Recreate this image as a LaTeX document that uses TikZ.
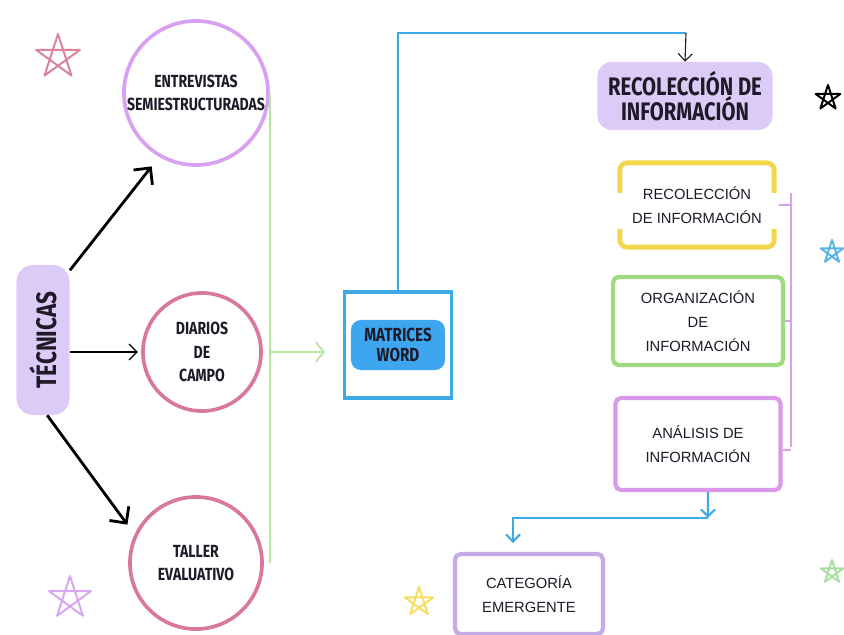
\documentclass[tikz,border=0pt]{standalone}
\usepackage{fontspec}
\setmainfont{Liberation Sans}
\newfontfamily\handfont[FakeStretch=0.8]{Fira Sans}
\usetikzlibrary{arrows.meta}
\definecolor{inkc}{HTML}{1E1A28}
\definecolor{lavfill}{HTML}{DCCBF6}
\definecolor{violetc}{HTML}{D8A0F0}
\definecolor{rosec}{HTML}{D9789B}
\definecolor{greenc}{HTML}{B8E4A2}
\definecolor{boxgreen}{HTML}{9FDB7E}
\definecolor{bluec}{HTML}{3FA9E6}
\definecolor{blobblue}{HTML}{3EA6EE}
\definecolor{yellowc}{HTML}{F3D64C}
\definecolor{anac}{HTML}{DB98EA}
\definecolor{catc}{HTML}{C6AAE8}
\definecolor{starpink}{HTML}{D9849A}
\definecolor{starblue}{HTML}{5AB4E6}
\definecolor{stargreen}{HTML}{A9DFA1}
\definecolor{starpurple}{HTML}{D6A6F2}
\definecolor{staryellow}{HTML}{F5DE62}
\tikzset{
  circtext/.style={circle, line width=2.6pt, inner sep=0pt, text=inkc, align=center,
    font=\handfont\bfseries\fontsize{12.5}{16.5}\selectfont},
  boxtext/.style={rectangle, rounded corners=4pt, line width=3pt, inner sep=0pt, text=inkc,
    align=center, font=\fontsize{10.5}{17}\selectfont},
  blackarrow/.style={line width=2pt, draw=black, -{Straight Barb[length=3mm,width=6mm]}},
  thinarrow/.style={line width=0.9pt, draw=black, -{Straight Barb[length=2mm,width=4mm]}},
  greenline/.style={line width=1.2pt, draw=greenc},
  blueline/.style={line width=1.5pt, draw=bluec},
  bluetip/.style={-{Straight Barb[length=1.8mm,width=3.5mm]}},
  bracketline/.style={line width=1.4pt, draw=violetc},
  starpic/.pic={\draw[line width=1.4pt, line join=round] (-90:1) -- (54:1) -- (198:1) -- (342:1) -- (126:1) -- cycle;}
}
\begin{document}
\begin{tikzpicture}[x=0.025cm, y=-0.025cm]
	\useasboundingbox (0,0) rectangle (844,635);
	\node[circtext, draw=violetc, minimum size=3.6cm] (ent) at (196,93) {ENTREVISTAS\\SEMIESTRUCTURADAS};
	\node[circtext, draw=rosec, minimum size=2.95cm] (dia) at (202,352) {DIARIOS\\DE\\CAMPO};
	\node[circtext, draw=rosec, minimum size=3.3cm] (tal) at (196,563) {TALLER\\EVALUATIVO};
	\node[fill=lavfill, rounded corners=12pt, minimum width=1.33cm, minimum height=3.75cm, inner sep=0pt] (tec) at (43,340) {};
	\node[rotate=90, text=inkc, font=\handfont\bfseries\fontsize{20}{20}\selectfont] (tectxt) at (tec.center) {TÉCNICAS};
	\draw[blackarrow, shorten >=0.3cm] ([yshift=-4pt]tec.north east) -- (ent.240);
	\draw[thinarrow, shorten >=0.08cm] (tec.east |- dia.west) -- (dia.west);
	\draw[blackarrow, shorten >=0.3cm] ([xshift=3pt]tec.south) -- (tal.155);
	\node[draw=bluec, line width=2.2pt, minimum width=2.68cm, minimum height=2.65cm, inner sep=0pt] (mat) at (398,345) {};
	\node[fill=blobblue, rounded corners=7pt, minimum width=2.35cm, minimum height=1.25cm, inner sep=0pt,
		text=inkc, align=center, font=\handfont\bfseries\fontsize{13.5}{14}\selectfont] (blob) at (mat.center) {MATRICES\\WORD};
	\draw[greenline] (ent.east) -- (ent.east |- tal.east);
	\draw[greenline, -{Straight Barb[length=2mm,width=5mm]}, shorten >=0.45cm] (ent.east |- dia.east) -- (mat.west |- dia.east);
	\node[fill=lavfill, rounded corners=10pt, minimum width=4.375cm, minimum height=1.7cm, inner sep=0pt,
		text=inkc, align=center, font=\handfont\bfseries\fontsize{18}{18}\selectfont] (head) at (685,96) {RECOLECCIÓN DE\\INFORMACIÓN};
	\coordinate (ctop) at (686,33);
	\draw[blueline] (mat.north) |- (ctop);
	\draw[line width=0.8pt, bluetip, draw=inkc] (ctop) -- (head.north);
	\node[boxtext, minimum width=3.75cm, minimum height=2cm] (rec) at (697,205) {RECOLECCIÓN\\DE INFORMACIÓN};
	\draw[yellowc, line width=3.4pt, rounded corners=5pt] ([yshift=-0.75cm]rec.north west) -- (rec.north west) -- (rec.north east) -- ([yshift=-0.75cm]rec.north east);
	\draw[yellowc, line width=3.4pt, rounded corners=5pt] ([yshift=0.45cm]rec.south west) -- (rec.south west) -- (rec.south east) -- ([yshift=0.45cm]rec.south east);
	\node[boxtext, draw=boxgreen, minimum width=4.25cm, minimum height=2.2cm] (org) at (698,321) {ORGANIZACIÓN\\DE\\INFORMACIÓN};
	\node[boxtext, draw=anac, minimum width=4.125cm, minimum height=2.3cm] (ana) at (698,444) {ANÁLISIS DE\\INFORMACIÓN};
	\coordinate (btop) at (791,193);
	\coordinate (bbot) at (791,447);
	\draw[bracketline] (btop) -- (bbot);
	\draw[bracketline] ([xshift=0.12cm]rec.east) -- (rec.east -| btop);
	\draw[bracketline] (org.east) -- (org.east -| btop);
	\draw[bracketline] ([yshift=-4pt]ana.east) -- ([yshift=-4pt]ana.east -| btop);
	\node[boxtext, draw=catc, minimum width=3.7cm, minimum height=2cm] (cat) at (529,594) {CATEGORÍA\\EMERGENTE};
	\coordinate (bcorner) at (708,518);
	\draw[blueline, bluetip] ([xshift=0.25cm]ana.south) -- (bcorner);
	\draw[blueline, bluetip] (bcorner) -| ([xshift=-0.4cm,yshift=0.22cm]cat.north);
	\pic[draw=starpink, scale=23] at (58,57) {starpic};
	\pic[draw=black, scale=13] at (828,98) {starpic};
	\pic[draw=starblue, scale=12] at (832,252) {starpic};
	\pic[draw=stargreen, scale=12] at (832,572) {starpic};
	\pic[draw=starpurple, scale=22] at (70,598) {starpic};
	\pic[draw=staryellow, fill=staryellow!60, scale=15] at (419,602) {starpic};
\end{tikzpicture}
\end{document}
